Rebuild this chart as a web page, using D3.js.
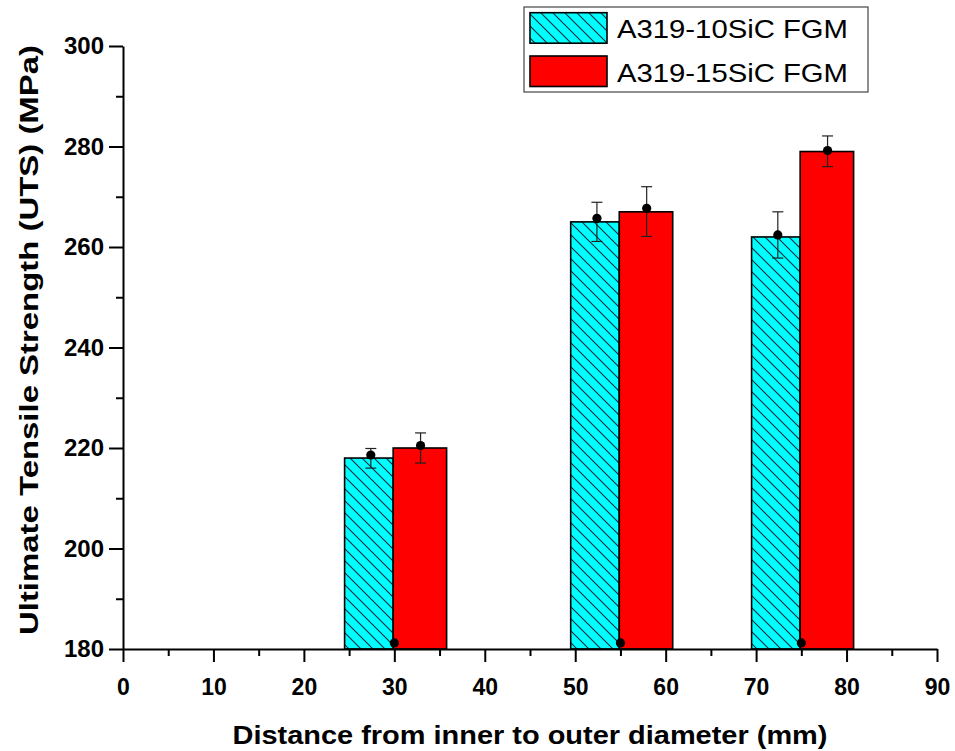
<!DOCTYPE html>
<html>
<head>
<meta charset="utf-8">
<script src="https://cdn.jsdelivr.net/npm/d3@7"></script>
<style>
  html, body { margin: 0; padding: 0; background: #fff; }
  svg { display: block; font-family: "Liberation Sans", Arial, sans-serif; }
</style>
</head>
<body>
<svg id="chart" width="955" height="751"></svg>
<script>
// Measurement positions (mm from inner diameter)
const positions = [30, 55, 75];
const xTickValues = [0, 10, 20, 30, 40, 50, 60, 70, 80, 90];
const yTickValues = [180, 200, 220, 240, 260, 280, 300];

// Bar heights (UTS, MPa)
const uts10SiC = [218, 265, 262];
const uts15SiC = [220, 267, 279];

// Measured means with error ranges
const mean10SiC = [218.6, 265.7, 262.4];
const low10SiC  = [216.0, 261.1, 257.8];
const high10SiC = [219.9, 268.9, 267.0];
const mean15SiC = [220.5, 267.7, 279.2];
const low15SiC  = [217.0, 262.1, 276.0];
const high15SiC = [223.0, 272.0, 282.1];

// Markers sitting on the baseline at each position
const baseMarks = [181.2, 181.2, 181.2];

const seriesNames = ["A319-10SiC FGM", "A319-15SiC FGM"];

const svg = d3.select("#chart");
const x = d3.scaleLinear().domain([0, 90]).range([123, 937]);
const y = d3.scaleLinear().domain([180, 300]).range([649, 46]);

// Hatch pattern for the 10SiC series
const s = 12;
const defs = svg.append("defs");
const pat = defs.append("pattern")
  .attr("id", "hatch")
  .attr("patternUnits", "userSpaceOnUse")
  .attr("width", s).attr("height", s);
pat.append("rect").attr("width", s).attr("height", s).attr("fill", "#00FFFF");
pat.append("path")
  .attr("d", `M0,0 L${s},${s} M${-s/2},${s/2} L${s/2},${3*s/2} M${s/2},${-s/2} L${3*s/2},${s/2}`)
  .attr("stroke", "#0a2a3a").attr("stroke-width", 1.1).attr("fill", "none");

// Bar spans relative to each position (mm)
const leftSpan = [-5.5, -0.13];
const rightSpan = [-0.13, 5.78];

const bars = svg.append("g");
bars.selectAll("rect.b10").data(positions).join("rect")
  .attr("class", "b10")
  .attr("x", d => x(d + leftSpan[0]))
  .attr("width", d => x(d + leftSpan[1]) - x(d + leftSpan[0]))
  .attr("y", (d, i) => y(uts10SiC[i]))
  .attr("height", (d, i) => y(180) - y(uts10SiC[i]))
  .attr("fill", "url(#hatch)")
  .attr("stroke", "#000").attr("stroke-width", 1.6);

bars.selectAll("rect.b15").data(positions).join("rect")
  .attr("class", "b15")
  .attr("x", d => x(d + rightSpan[0]))
  .attr("width", d => x(d + rightSpan[1]) - x(d + rightSpan[0]))
  .attr("y", (d, i) => y(uts15SiC[i]))
  .attr("height", (d, i) => y(180) - y(uts15SiC[i]))
  .attr("fill", "#FF0000")
  .attr("stroke", "#000").attr("stroke-width", 1.6);

// Error bars and mean markers
function drawErrors(offset, means, lows, highs) {
  const g = svg.append("g");
  positions.forEach((p, i) => {
    const cx = x(p + offset);
    g.append("line").attr("x1", cx).attr("x2", cx)
      .attr("y1", y(lows[i])).attr("y2", y(highs[i]))
      .attr("stroke", "#222").attr("stroke-width", 1.2);
    [lows[i], highs[i]].forEach(v => {
      g.append("line").attr("x1", cx - 5.5).attr("x2", cx + 5.5)
        .attr("y1", y(v)).attr("y2", y(v))
        .attr("stroke", "#222").attr("stroke-width", 1.2);
    });
    g.append("circle").attr("cx", cx).attr("cy", y(means[i])).attr("r", 4.6).attr("fill", "#000");
  });
}
drawErrors(-2.6, mean10SiC, low10SiC, high10SiC);
drawErrors(2.9, mean15SiC, low15SiC, high15SiC);

svg.append("g").selectAll("circle").data(positions).join("circle")
  .attr("cx", d => x(d)).attr("cy", (d, i) => y(baseMarks[i]))
  .attr("r", 4.6).attr("fill", "#000");

// Axes
const xMinor = d3.range(5, 90, 10);
const yMinor = d3.range(190, 300, 20);

const gx = svg.append("g").attr("transform", `translate(0,${y(180)})`);
gx.call(d3.axisBottom(x).tickValues(xTickValues).tickSize(13).tickSizeOuter(0).tickPadding(17).tickFormat(d3.format("d")));
const gxm = svg.append("g").attr("transform", `translate(0,${y(180)})`);
gxm.call(d3.axisBottom(x).tickValues(xMinor).tickSize(7).tickSizeOuter(0).tickFormat(""));
gxm.select(".domain").remove();

const gy = svg.append("g").attr("transform", `translate(${x(0)},0)`);
gy.call(d3.axisLeft(y).tickValues(yTickValues).tickSize(14).tickSizeOuter(0).tickPadding(5).tickFormat(d3.format("d")));
const gym = svg.append("g").attr("transform", `translate(${x(0)},0)`);
gym.call(d3.axisLeft(y).tickValues(yMinor).tickSize(7).tickSizeOuter(0).tickFormat(""));
gym.select(".domain").remove();

svg.selectAll(".domain").attr("stroke", "#000").attr("stroke-width", 2);
svg.selectAll(".tick line").attr("stroke", "#000").attr("stroke-width", 2);
svg.selectAll(".tick text")
  .attr("fill", "#000")
  .attr("font-family", "'Liberation Sans', Arial, sans-serif")
  .attr("font-weight", "bold");
gx.selectAll(".tick text").attr("font-size", 23);
gy.selectAll(".tick text").attr("font-size", 24);

// Axis titles
svg.append("text")
  .attr("x", 530).attr("y", 744)
  .attr("text-anchor", "middle")
  .attr("font-size", 26).attr("font-weight", "bold")
  .attr("textLength", 595).attr("lengthAdjust", "spacingAndGlyphs")
  .text("Distance from inner to outer diameter (mm)");

svg.append("text")
  .attr("transform", "translate(38,340) rotate(-90)")
  .attr("text-anchor", "middle")
  .attr("font-size", 26).attr("font-weight", "bold")
  .attr("textLength", 590).attr("lengthAdjust", "spacingAndGlyphs")
  .text("Ultimate Tensile Strength (UTS) (MPa)");

// Legend
const lg = svg.append("g");
lg.append("rect").attr("x", 524).attr("y", 7).attr("width", 344).attr("height", 85)
  .attr("fill", "#fff").attr("stroke", "#444").attr("stroke-width", 1.2);
const fills = ["url(#hatch)", "#FF0000"];
const rowY = [12.7, 56];
seriesNames.forEach((name, i) => {
  lg.append("rect").attr("x", 530).attr("y", rowY[i]).attr("width", 77).attr("height", 30.5)
    .attr("fill", fills[i]).attr("stroke", "#000").attr("stroke-width", 1.6);
  lg.append("text").attr("x", 617).attr("y", rowY[i] + 25.6)
    .attr("font-size", 25)
    .attr("textLength", 231).attr("lengthAdjust", "spacingAndGlyphs")
    .attr("fill", "#000")
    .text(name);
});
</script>
</body>
</html>
